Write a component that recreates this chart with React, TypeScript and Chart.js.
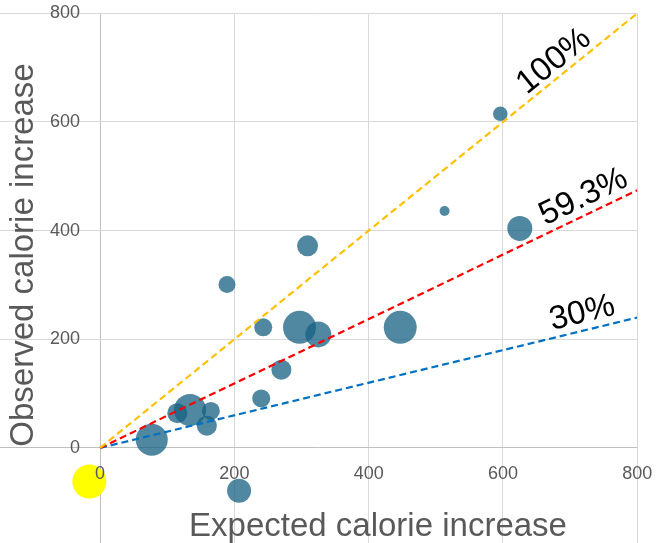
import { useEffect, useRef } from "react";
import { Chart, registerables } from "chart.js";

Chart.register(...registerables);

// bubbles: expected vs observed calorie increase, r = bubble radius
const expectedKcal = [77, 115, 134, 165, 159, 240, 270, 243, 297, 325, 189, 309, 447, 513, 596, 625, 207];
const observedKcal = [15, 64, 70, 68, 41, 91, 144, 222, 222, 209, 301, 372, 222, 436, 615, 404, -79];
const bubbleSize = [16, 10, 16, 9, 10, 9, 10, 9, 16.5, 13, 8.5, 10.5, 16.5, 5, 7.3, 12.5, 12];

// the yellow reference bubble
const refExpected = [-16];
const refObserved = [-62];
const refSize = [17];

// reference slopes through the origin
const slopes = [1, 0.593, 0.3];
const slopeLabels = ["100%", "59.3%", "30%"];
const slopeColors = ["#FFC000", "#FF0000", "#0070C0"];

const tickValues = [0, 200, 400, 600, 800];

const AXIS_GREY = "#595959";
const FONT = '"Liberation Sans", Arial, sans-serif';

const textPlugin = {
  id: "textPlugin",
  afterDraw(chart: any) {
    const { ctx, scales } = chart;
    const xs = scales.x;
    const ys = scales.y;
    ctx.save();

    // tick labels sit next to the zero lines
    ctx.fillStyle = AXIS_GREY;
    ctx.font = `18px ${FONT}`;
    ctx.textAlign = "right";
    ctx.textBaseline = "middle";
    tickValues.forEach((v) => ctx.fillText(String(v), xs.getPixelForValue(0) - 20, ys.getPixelForValue(v)));
    ctx.textAlign = "center";
    tickValues.forEach((v) => ctx.fillText(String(v), xs.getPixelForValue(v), ys.getPixelForValue(0) + 26));

    // axis titles
    ctx.font = `33px ${FONT}`;
    ctx.textAlign = "center";
    ctx.textBaseline = "alphabetic";
    ctx.fillText("Expected calorie increase", 378, 536);
    ctx.save();
    ctx.translate(33, 255);
    ctx.rotate(-Math.PI / 2);
    ctx.fillText("Observed calorie increase", 0, 0);
    ctx.restore();

    // slope labels along each line
    const labelAt = [690, 731, 724];
    const lift = [6, 8, 8];
    ctx.fillStyle = "#000";
    ctx.font = `33px ${FONT}`;
    slopes.forEach((s, i) => {
      const x0 = xs.getPixelForValue(0);
      const y0 = ys.getPixelForValue(0);
      const x1 = xs.getPixelForValue(800);
      const y1 = ys.getPixelForValue(800 * s);
      const ang = Math.atan2(y1 - y0, x1 - x0);
      ctx.save();
      ctx.translate(xs.getPixelForValue(labelAt[i]), ys.getPixelForValue(labelAt[i] * s));
      ctx.rotate(ang);
      ctx.textAlign = "center";
      ctx.textBaseline = "alphabetic";
      ctx.fillText(slopeLabels[i], 0, -lift[i]);
      ctx.restore();
    });
    ctx.restore();
  },
};

export default function App() {
  const canvasRef = useRef<HTMLCanvasElement>(null);
  const chartRef = useRef<Chart | null>(null);

  useEffect(() => {
    if (!canvasRef.current) return;
    chartRef.current?.destroy();

    const lineSets = slopes.map((s, i) => ({
      type: "line" as const,
      data: [
        { x: 0, y: 0 },
        { x: 800, y: 800 * s },
      ],
      borderColor: slopeColors[i],
      borderWidth: 2.2,
      borderDash: [7, 4],
      pointRadius: 0,
      fill: false,
      order: 0,
    }));

    const gridColor = (c: any) => (c.tick && c.tick.value === 0 ? "#BFBFBF" : "#D9D9D9");
    const fixTicks = (scale: any) => {
      scale.ticks = tickValues.map((v) => ({ value: v }));
    };

    chartRef.current = new Chart(canvasRef.current, {
      type: "bubble",
      data: {
        datasets: [
          ...lineSets,
          {
            type: "bubble",
            data: expectedKcal.map((x, i) => ({ x, y: observedKcal[i], r: bubbleSize[i] })),
            backgroundColor: "rgba(21, 96, 130, 0.75)",
            borderWidth: 0,
            order: 1,
          },
          {
            type: "bubble",
            data: refExpected.map((x, i) => ({ x, y: refObserved[i], r: refSize[i] })),
            backgroundColor: "#FFFF00",
            borderWidth: 0,
            order: 1,
          },
        ] as any,
      },
      options: {
        animation: false,
        responsive: true,
        maintainAspectRatio: false,
        layout: { autoPadding: false, padding: { top: 13.3, right: 24.7, left: 0, bottom: 0 } },
        plugins: { legend: { display: false }, tooltip: { enabled: false } },
        scales: {
          x: {
            type: "linear",
            min: -149,
            max: 800,
            afterBuildTicks: fixTicks,
            ticks: { display: false },
            grid: { color: gridColor, drawTicks: false, lineWidth: 1 },
            border: { display: false },
          },
          y: {
            type: "linear",
            min: -175,
            max: 800,
            afterBuildTicks: fixTicks,
            ticks: { display: false },
            grid: { color: gridColor, drawTicks: false, lineWidth: 1 },
            border: { display: false },
          },
        },
      },
      plugins: [textPlugin],
    });
    return () => chartRef.current?.destroy();
  }, []);

  return (
    <div style={{ position: "absolute", left: 0, top: 0, width: 662, height: 543, background: "#fff" }}>
      <canvas ref={canvasRef} />
    </div>
  );
}
